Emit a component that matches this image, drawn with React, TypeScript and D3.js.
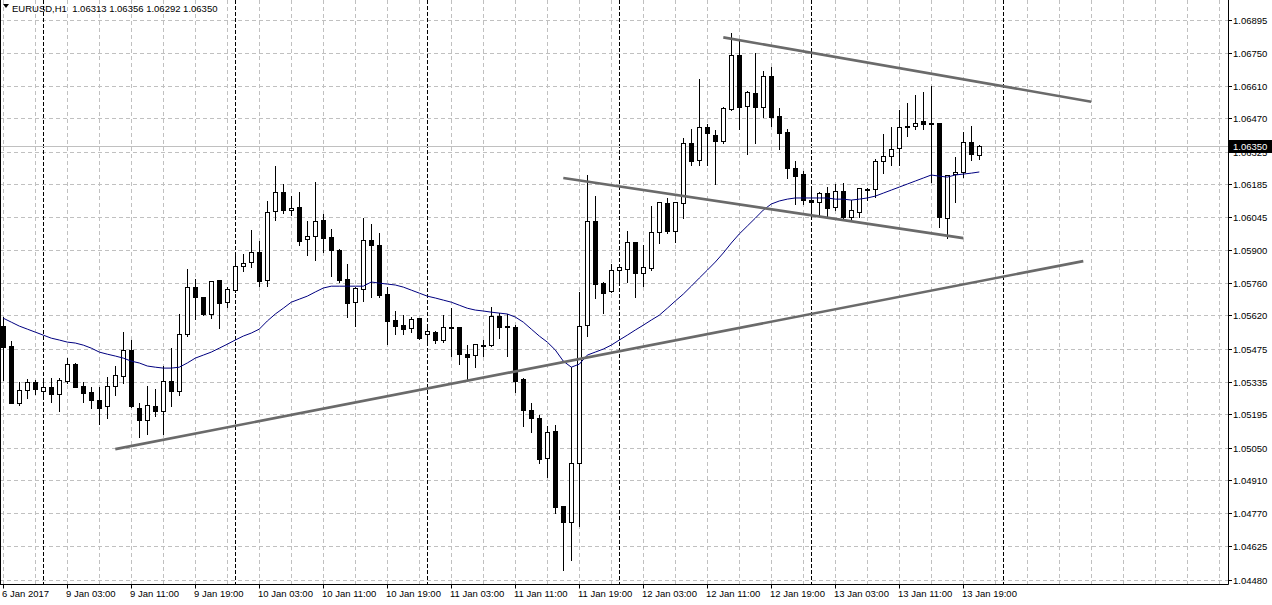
import React, { useEffect } from 'react';
import * as d3 from 'd3';

// EURUSD H1 candles (6 Jan 19:00 .. 13 Jan 21:00)
const opens = [
  1.05574, 1.05488, 1.05243, 1.05299, 1.05331, 1.05293, 1.05311, 1.05282, 1.05338, 1.05410,
  1.05315, 1.05288, 1.05254, 1.05228, 1.05314, 1.05360, 1.05469, 1.05219, 1.05170, 1.05229,
  1.05209, 1.05336, 1.05294, 1.05541, 1.05742, 1.05699, 1.05627, 1.05771, 1.05679, 1.05730,
  1.05834, 1.05848, 1.05892, 1.05771, 1.06068, 1.06150, 1.06075, 1.06087, 1.05948, 1.05961,
  1.06029, 1.05957, 1.05904, 1.05776, 1.05676, 1.05735, 1.05945, 1.05924, 1.05712, 1.05600,
  1.05578, 1.05567, 1.05608, 1.05538, 1.05548, 1.05512, 1.05568, 1.05570, 1.05453, 1.05448,
  1.05490, 1.05491, 1.05616, 1.05574, 1.05571, 1.05346, 1.05212, 1.05176, 1.05004, 1.05121,
  1.04798, 1.04731, 1.04982, 1.05577, 1.06026, 1.05758, 1.05724, 1.05815, 1.05820, 1.05936,
  1.05801, 1.05824, 1.05978, 1.06104, 1.05985, 1.06103, 1.06361, 1.06288, 1.06430, 1.06396,
  1.06370, 1.06511, 1.06742, 1.06521, 1.06580, 1.06519, 1.06651, 1.06479, 1.06410, 1.06255,
  1.06228, 1.06116, 1.06110, 1.06146, 1.06087, 1.06155, 1.06042, 1.06067, 1.06162, 1.06163,
  1.06284, 1.06305, 1.06342, 1.06433, 1.06435, 1.06456, 1.06449, 1.06449, 1.06038, 1.06228,
  1.06236, 1.06367, 1.06313,
];
const highs = [
  1.05614, 1.05509, 1.05331, 1.05344, 1.05341, 1.05338, 1.05351, 1.05351, 1.05437, 1.05414,
  1.05334, 1.05312, 1.05312, 1.05354, 1.05402, 1.05548, 1.05514, 1.05241, 1.05318, 1.05302,
  1.05402, 1.05479, 1.05626, 1.05820, 1.05778, 1.05700, 1.05769, 1.05772, 1.05741, 1.05883,
  1.05884, 1.05988, 1.05940, 1.06113, 1.06264, 1.06185, 1.06136, 1.06152, 1.06026, 1.06195,
  1.06057, 1.05992, 1.05905, 1.05841, 1.05743, 1.06039, 1.06014, 1.05974, 1.05743, 1.05640,
  1.05620, 1.05614, 1.05609, 1.05578, 1.05552, 1.05620, 1.05651, 1.05571, 1.05493, 1.05496,
  1.05514, 1.05657, 1.05629, 1.05626, 1.05578, 1.05350, 1.05241, 1.05193, 1.05143, 1.05147,
  1.04799, 1.05398, 1.05722, 1.06225, 1.06134, 1.05765, 1.05840, 1.05837, 1.05983, 1.05937,
  1.05923, 1.06091, 1.06108, 1.06124, 1.06108, 1.06383, 1.06424, 1.06637, 1.06445, 1.06419,
  1.06519, 1.06838, 1.06807, 1.06588, 1.06752, 1.06674, 1.06689, 1.06514, 1.06423, 1.06285,
  1.06243, 1.06174, 1.06153, 1.06172, 1.06186, 1.06189, 1.06117, 1.06168, 1.06168, 1.06295,
  1.06400, 1.06433, 1.06505, 1.06536, 1.06570, 1.06583, 1.06608, 1.06450, 1.06225, 1.06301,
  1.06409, 1.06437, 1.06356,
];
const lows = [
  1.05341, 1.05241, 1.05233, 1.05265, 1.05281, 1.05269, 1.05246, 1.05209, 1.05330, 1.05312,
  1.05245, 1.05222, 1.05153, 1.05179, 1.05278, 1.05327, 1.05226, 1.05097, 1.05110, 1.05187,
  1.05108, 1.05230, 1.05277, 1.05532, 1.05605, 1.05620, 1.05610, 1.05567, 1.05657, 1.05719,
  1.05812, 1.05830, 1.05746, 1.05748, 1.06031, 1.06060, 1.06052, 1.05923, 1.05880, 1.05860,
  1.05892, 1.05789, 1.05764, 1.05614, 1.05574, 1.05683, 1.05700, 1.05700, 1.05496, 1.05542,
  1.05540, 1.05549, 1.05517, 1.05511, 1.05501, 1.05504, 1.05445, 1.05410, 1.05347, 1.05396,
  1.05445, 1.05490, 1.05521, 1.05446, 1.05291, 1.05144, 1.05118, 1.04985, 1.04924, 1.04767,
  1.04525, 1.04568, 1.04712, 1.05532, 1.05696, 1.05631, 1.05723, 1.05768, 1.05764, 1.05700,
  1.05746, 1.05815, 1.05930, 1.05974, 1.05936, 1.06038, 1.06267, 1.06267, 1.06269, 1.06186,
  1.06364, 1.06505, 1.06423, 1.06317, 1.06364, 1.06473, 1.06436, 1.06336, 1.06213, 1.06099,
  1.06101, 1.06067, 1.06052, 1.06042, 1.06073, 1.06031, 1.06031, 1.06045, 1.06117, 1.06131,
  1.06232, 1.06268, 1.06268, 1.06393, 1.06424, 1.06424, 1.06196, 1.06002, 1.05952, 1.06110,
  1.06217, 1.06288, 1.06292,
];
const closes = [
  1.05485, 1.05242, 1.05298, 1.05331, 1.05304, 1.05311, 1.05282, 1.05340, 1.05409, 1.05312,
  1.05287, 1.05254, 1.05222, 1.05318, 1.05362, 1.05469, 1.05230, 1.05169, 1.05232, 1.05209,
  1.05336, 1.05295, 1.05542, 1.05742, 1.05698, 1.05626, 1.05767, 1.05674, 1.05732, 1.05831,
  1.05847, 1.05892, 1.05769, 1.06064, 1.06150, 1.06075, 1.06084, 1.05942, 1.05963, 1.06028,
  1.05954, 1.05903, 1.05772, 1.05674, 1.05738, 1.05943, 1.05924, 1.05706, 1.05598, 1.05575,
  1.05562, 1.05604, 1.05522, 1.05551, 1.05512, 1.05568, 1.05567, 1.05452, 1.05442, 1.05495,
  1.05492, 1.05616, 1.05571, 1.05568, 1.05338, 1.05213, 1.05176, 1.05002, 1.05118, 1.04795,
  1.04728, 1.04982, 1.05574, 1.06026, 1.05754, 1.05717, 1.05815, 1.05827, 1.05935, 1.05804,
  1.05827, 1.05979, 1.06107, 1.05985, 1.06107, 1.06361, 1.06286, 1.06430, 1.06404, 1.06373,
  1.06512, 1.06742, 1.06519, 1.06583, 1.06519, 1.06651, 1.06476, 1.06407, 1.06256, 1.06222,
  1.06116, 1.06108, 1.06146, 1.06084, 1.06155, 1.06042, 1.06074, 1.06167, 1.06165, 1.06285,
  1.06305, 1.06336, 1.06433, 1.06436, 1.06450, 1.06446, 1.06443, 1.06042, 1.06224, 1.06236,
  1.06367, 1.06314, 1.06350,
];

// blue moving average, one value per bar
const maValues = [
  1.05608, 1.05591, 1.05574, 1.05561, 1.05548, 1.05535, 1.05522, 1.05514, 1.05505, 1.05501,
  1.05492, 1.05479, 1.05462, 1.05453, 1.05445, 1.05436, 1.05423, 1.05415, 1.05402, 1.05397,
  1.05393, 1.05393, 1.05397, 1.05415, 1.05436, 1.05449, 1.05462, 1.05479, 1.05496, 1.05514,
  1.05531, 1.05544, 1.05561, 1.05596, 1.05626, 1.05651, 1.05677, 1.05690, 1.05703, 1.05721,
  1.05738, 1.05746, 1.05746, 1.05746, 1.05746, 1.05746, 1.05764, 1.05759, 1.05755, 1.05751,
  1.05742, 1.05729, 1.05716, 1.05703, 1.05695, 1.05686, 1.05677, 1.05664, 1.05651, 1.05643,
  1.05639, 1.05634, 1.05630, 1.05626, 1.05613, 1.05591, 1.05561, 1.05531, 1.05505, 1.05471,
  1.05423, 1.05397, 1.05410, 1.05449, 1.05462, 1.05475, 1.05492, 1.05514, 1.05535, 1.05557,
  1.05578, 1.05600, 1.05621, 1.05651, 1.05682, 1.05712, 1.05746, 1.05781, 1.05815, 1.05850,
  1.05889, 1.05932, 1.05971, 1.06005, 1.06039, 1.06074, 1.06100, 1.06113, 1.06121, 1.06126,
  1.06126, 1.06126, 1.06126, 1.06126, 1.06121, 1.06121, 1.06117, 1.06121, 1.06126, 1.06134,
  1.06147, 1.06160, 1.06173, 1.06186, 1.06199, 1.06212, 1.06225, 1.06220, 1.06216, 1.06225,
  1.06229, 1.06233, 1.06238,
];

const priceTicks = [
  1.06895, 1.0675, 1.0661, 1.0647, 1.06325, 1.06185, 1.06045, 1.059, 1.0576,
  1.0562, 1.05475, 1.05335, 1.05195, 1.0505, 1.0491, 1.0477, 1.04625, 1.0448,
];

const timeLabels = [
  '6 Jan 2017', '9 Jan 03:00', '9 Jan 11:00', '9 Jan 19:00', '10 Jan 03:00', '10 Jan 11:00',
  '10 Jan 19:00', '11 Jan 03:00', '11 Jan 11:00', '11 Jan 19:00', '12 Jan 03:00',
  '12 Jan 11:00', '12 Jan 19:00', '13 Jan 03:00', '13 Jan 11:00', '13 Jan 19:00',
];
const timeLabelBars = [0, 8, 16, 24, 32, 40, 48, 56, 64, 72, 80, 88, 96, 104, 112, 120];
const daySeparatorBars = [5, 29, 53, 77, 101, 125];

// hand-drawn trend lines: [bar, price] -> [bar, price]
const trendLines = [
  { b1: 14, p1: 1.05044, b2: 135, p2: 1.05854 },
  { b1: 90, p1: 1.06818, b2: 136, p2: 1.06541 },
  { b1: 70, p1: 1.06212, b2: 120, p2: 1.05953 },
];

const title = 'EURUSD,H1  1.06313 1.06356 1.06292 1.06350';
const lastPrice = 1.0635;

const W = 1272;
const H = 605;
const axisX = 1228.5;
const axisY = 584.5;
const FONT = 'Tahoma, "Liberation Sans", Arial, sans-serif';
const FS = 9.5;

const App = () => {
  useEffect(() => {
    document.body.style.margin = '0';
  }, []);

  const x = d3.scaleLinear().domain([0, 153]).range([3.3, 3.3 + 8 * 153]);
  const y = d3.scaleLinear().domain([1.0448, 1.06895]).range([580, 19.5]);
  const px = (i) => Math.round(x(i));
  const py = (v) => Math.round(y(v));

  const gridBars = d3.range(0, 153, 4);

  const maLine = d3
    .line()
    .x((d, i) => x(i))
    .y((d) => y(d))(maValues);

  const candles = opens.map((o, i) => ({
    i,
    o,
    h: highs[i],
    l: lows[i],
    c: closes[i],
  }));

  return (
    <svg width={W} height={H} style={{ display: 'block', background: '#fff' }}>
      <defs>
        <clipPath id="plot">
          <rect x={0} y={0} width={axisX} height={axisY} />
        </clipPath>
      </defs>

      <g clipPath="url(#plot)">
        {/* grid */}
        {gridBars.map((b) => (
          <line
            key={'gv' + b}
            x1={px(b) + 0.5}
            x2={px(b) + 0.5}
            y1={0}
            y2={axisY}
            stroke="#c0c0c0"
            strokeDasharray="4,3"
          />
        ))}
        {priceTicks.map((v) => (
          <line
            key={'gh' + v}
            x1={0}
            x2={axisX}
            y1={py(v) + 0.5}
            y2={py(v) + 0.5}
            stroke="#c0c0c0"
            strokeDasharray="4,3"
          />
        ))}
        {daySeparatorBars.map((b) => (
          <line
            key={'sep' + b}
            x1={px(b) + 0.5}
            x2={px(b) + 0.5}
            y1={0}
            y2={axisY}
            stroke="#000"
            strokeDasharray="4,2"
          />
        ))}

        {/* current price line */}
        <line
          x1={0}
          x2={axisX}
          y1={py(lastPrice) + 0.5}
          y2={py(lastPrice) + 0.5}
          stroke="#c0c0c0"
        />

        {/* candles */}
        {candles.map((d) => {
          const cx = px(d.i) + 0.5;
          const top = Math.round(y(Math.max(d.o, d.c)));
          const bot = Math.round(y(Math.min(d.o, d.c)));
          const bull = d.c >= d.o;
          return (
            <g key={'c' + d.i}>
              <line
                x1={cx}
                x2={cx}
                y1={Math.round(y(d.h))}
                y2={Math.round(y(d.l)) + 1}
                stroke="#000"
              />
              {bot - top < 1 ? (
                <line x1={cx - 2.5} x2={cx + 2.5} y1={top + 0.5} y2={top + 0.5} stroke="#000" />
              ) : (
                <rect
                  x={cx - 2}
                  y={top + 0.5}
                  width={4}
                  height={bot - top}
                  fill={bull ? '#fff' : '#000'}
                  stroke="#000"
                />
              )}
            </g>
          );
        })}

        {/* moving average */}
        <path d={maLine} fill="none" stroke="#000080" strokeWidth={1} />

        {/* trend lines */}
        {trendLines.map((t, k) => (
          <line
            key={'tl' + k}
            x1={x(t.b1)}
            y1={y(t.p1)}
            x2={x(t.b2)}
            y2={y(t.p2)}
            stroke="#6a6a6a"
            strokeWidth={2.6}
          />
        ))}
      </g>

      {/* frame */}
      <line x1={0.5} x2={0.5} y1={0} y2={axisY} stroke="#000" />
      <line x1={axisX} x2={axisX} y1={0} y2={axisY} stroke="#000" />
      <line x1={0} x2={axisX} y1={axisY} y2={axisY} stroke="#000" />

      {/* price axis */}
      {priceTicks.map((v) => (
        <g key={'pt' + v}>
          <line x1={axisX} x2={axisX + 3.5} y1={py(v) + 0.5} y2={py(v) + 0.5} stroke="#000" />
          <text x={axisX + 4.5} y={py(v) + 3.5} fontFamily={FONT} fontSize={FS} fill="#000">
            {v.toFixed(5)}
          </text>
        </g>
      ))}
      <rect x={axisX + 0.5} y={py(lastPrice) - 6} width={W - axisX} height={13} fill="#000" />
      <text x={axisX + 4.5} y={py(lastPrice) + 3.5} fontFamily={FONT} fontSize={FS} fill="#fff">
        {lastPrice.toFixed(5)}
      </text>

      {/* time axis */}
      {timeLabels.map((t, k) => (
        <g key={'tt' + t}>
          <line
            x1={px(timeLabelBars[k]) + 0.5}
            x2={px(timeLabelBars[k]) + 0.5}
            y1={axisY}
            y2={axisY + 4}
            stroke="#000"
          />
          <text x={px(timeLabelBars[k]) - 1} y={597} fontFamily={FONT} fontSize={FS} fill="#000">
            {t}
          </text>
        </g>
      ))}

      {/* title */}
      <path d="M3,4 L9,4 L6,8 Z" fill="#000" />
      <text x={12} y={12} fontFamily={FONT} fontSize={FS} fill="#000" style={{ whiteSpace: 'pre' }}>
        {title}
      </text>
    </svg>
  );
};

export default App;
